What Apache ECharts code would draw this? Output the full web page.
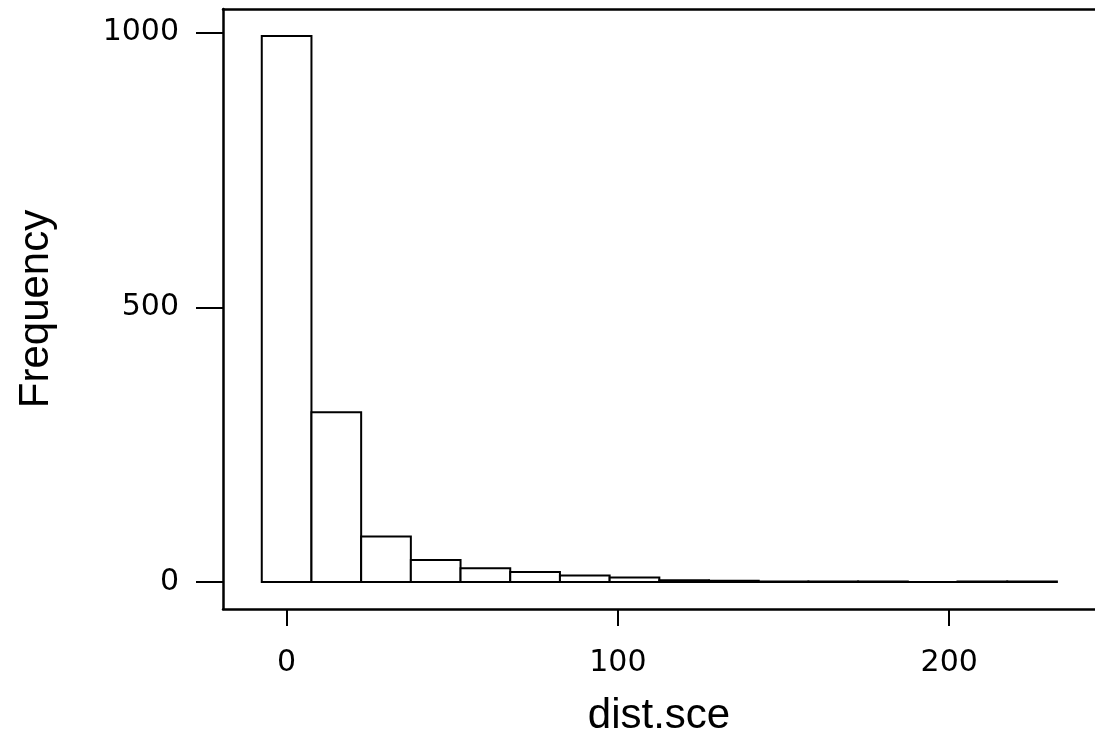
<!DOCTYPE html>
<html>
<head>
<meta charset="utf-8">
<script src="https://cdn.jsdelivr.net/npm/echarts@6/dist/echarts.min.js"></script>
<style>
  html, body { margin: 0; padding: 0; background: #fff; }
  #chart { width: 1095px; height: 747px; }
</style>
</head>
<body>
<div id="chart"></div>
<script>
// Histogram bin edges (dist.sce) and counts per bin
const binEdges = [-7.5, 7.5, 22.5, 37.5, 52.5, 67.5, 82.5, 97.5, 112.5, 127.5, 142.5, 157.5, 172.5, 187.5, 202.5, 217.5, 232.5];
const counts = [994, 309, 83, 40, 25, 18, 12, 8, 3, 2, 1, 1, 1, 0, 1, 1];
const xTicks = [0, 100, 200];
const yTicks = [0, 500, 1000];
const xTitle = 'dist.sce';
const yTitle = 'Frequency';

const data = counts.map((c, i) => [binEdges[i], binEdges[i + 1], c]);

const chart = echarts.init(document.getElementById('chart'), null, { renderer: 'canvas' });

const xMin = -19.2, xMax = 244;
const lineStyle = { color: '#000', width: 2.5 };
const tickFont = { color: '#000', fontFamily: 'DejaVu Sans', fontSize: 30 };
const titleFont = { color: '#000', fontFamily: 'Liberation Sans', fontSize: 42 };

chart.setOption({
  animation: false,
  backgroundColor: '#ffffff',
  grid: { left: 223, top: 9, right: 0, bottom: 138, show: false },
  xAxis: [{
    type: 'value',
    position: 'bottom',
    min: xMin, max: xMax,
    axisLine: { show: true, onZero: false, lineStyle: lineStyle },
    splitLine: { show: false },
    axisTick: { show: true, length: 17, customValues: xTicks, lineStyle: { color: '#000', width: 2 } },
    axisLabel: { customValues: xTicks, margin: 39, formatter: v => String(v), ...tickFont },
    name: xTitle,
    nameLocation: 'middle',
    nameGap: 86,
    nameTextStyle: titleFont
  }, {
    type: 'value',
    position: 'top',
    min: xMin, max: xMax,
    axisLine: { show: true, onZero: false, lineStyle: lineStyle },
    splitLine: { show: false },
    axisTick: { show: false },
    axisLabel: { show: false }
  }],
  yAxis: {
    type: 'value',
    position: 'left',
    min: -49.2, max: 1043,
    axisLine: { show: true, onZero: false, lineStyle: lineStyle },
    splitLine: { show: false },
    axisTick: { show: true, length: 27, customValues: yTicks, lineStyle: { color: '#000', width: 2 } },
    axisLabel: { customValues: yTicks, margin: 44, formatter: v => String(v), ...tickFont },
    name: yTitle,
    nameLocation: 'middle',
    nameGap: 166,
    nameTextStyle: titleFont
  },
  series: [{
    type: 'custom',
    xAxisIndex: 0,
    data: data,
    encode: { x: [0, 1], y: 2 },
    renderItem: function (params, api) {
      const p1 = api.coord([api.value(0), api.value(2)]);
      const p2 = api.coord([api.value(1), 0]);
      return {
        type: 'rect',
        shape: { x: p1[0], y: p1[1], width: p2[0] - p1[0], height: p2[1] - p1[1] },
        style: { fill: '#fff', stroke: '#000', lineWidth: 2 }
      };
    }
  }]
});
</script>
</body>
</html>
